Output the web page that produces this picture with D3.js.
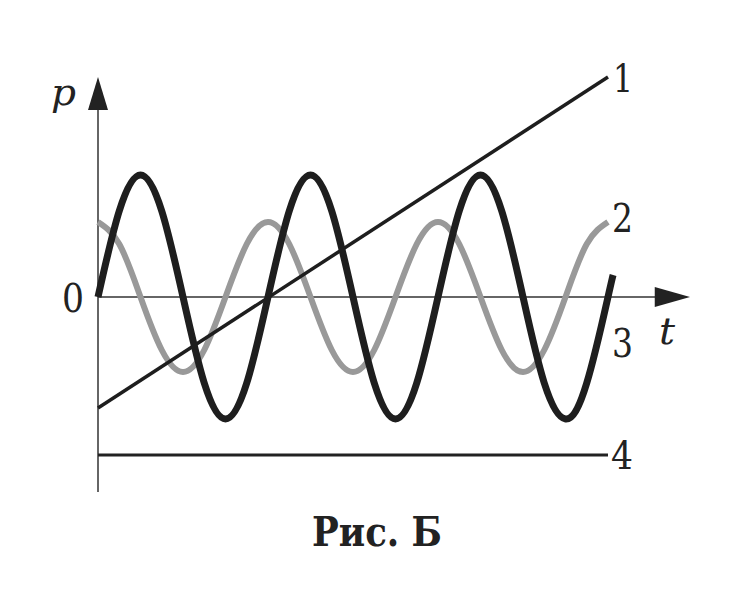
<!DOCTYPE html>
<html>
<head>
<meta charset="utf-8">
<script src="https://cdn.jsdelivr.net/npm/d3@7"></script>
<style>
  body { margin: 0; background: #fff; }
  text { font-family: "DejaVu Serif", "Liberation Serif", serif; fill: #222; }
</style>
</head>
<body>
<div id="chart"></div>
<script>
var width = 746;
var height = 594;

// time in quarter-periods
var tSteps = [0, 0.5, 1, 1.5, 2, 2.5, 3, 3.5, 4, 4.5, 5, 5.5, 6, 6.5, 7, 7.5, 8, 8.5, 9, 9.5, 10, 10.5, 11, 11.5, 12];
var curve2 = [0.75, 0.53, 0, -0.53, -0.75, -0.53, 0, 0.53, 0.75, 0.53, 0, -0.53, -0.75, -0.53, 0, 0.53, 0.75, 0.53, 0, -0.53, -0.75, -0.53, 0, 0.53, 0.75];
var curve3 = [0, 0.86, 1.22, 0.86, 0, -0.86, -1.22, -0.86, 0, 0.86, 1.22, 0.86, 0, -0.86, -1.22, -0.86, 0, 0.86, 1.22, 0.86, 0, -0.86, -1.22, -0.86, 0];
var curve3Tail = {t: 12.12, p: 0.22};
var line1 = [{t: 0, p: -1.11}, {t: 12, p: 2.2}];
var line4 = [{t: 0, p: -1.58}, {t: 12, p: -1.58}];
var labels = ["1", "2", "3", "4"];

var x = d3.scaleLinear().domain([0, 12]).range([98, 608]);
var y = d3.scaleLinear().domain([0, 1]).range([297, 197]);

var svg = d3.select("#chart").append("svg")
    .attr("width", width)
    .attr("height", height)
    .style("background", "#fff");

// axes
var axisColor = "#333";
svg.append("line")
    .attr("x1", x(0)).attr("y1", y(-1.95))
    .attr("x2", x(0)).attr("y2", y(1.9))
    .attr("stroke", axisColor).attr("stroke-width", 1.5);
svg.append("path")
    .attr("d", "M" + x(0) + "," + y(2.2) + " L" + (x(0) - 10) + "," + y(1.87) + " L" + (x(0) + 10) + "," + y(1.87) + " Z")
    .attr("fill", "#222");
svg.append("line")
    .attr("x1", x(0)).attr("y1", y(0))
    .attr("x2", x(13.2)).attr("y2", y(0))
    .attr("stroke", axisColor).attr("stroke-width", 1.5);
svg.append("path")
    .attr("d", "M" + x(13.93) + "," + y(0) + " L" + x(13.1) + "," + (y(0) - 10) + " L" + x(13.1) + "," + (y(0) + 10) + " Z")
    .attr("fill", "#222");

var lineGen = d3.line()
    .x(function (d) { return x(d.t); })
    .y(function (d) { return y(d.p); });

var smooth = d3.line()
    .x(function (d) { return x(d.t); })
    .y(function (d) { return y(d.p); })
    .curve(d3.curveNatural);

var data2 = tSteps.map(function (t, i) { return {t: t, p: curve2[i]}; });
var data3 = tSteps.map(function (t, i) { return {t: t, p: curve3[i]}; });
data3.push(curve3Tail);

// line 4
svg.append("path").attr("d", lineGen(line4))
    .attr("fill", "none").attr("stroke", "#222").attr("stroke-width", 3);

// curve 2 (gray)
svg.append("path").attr("d", smooth(data2))
    .attr("fill", "none").attr("stroke", "#999").attr("stroke-width", 6);

// line 1
svg.append("path").attr("d", lineGen(line1))
    .attr("fill", "none").attr("stroke", "#1e1e1e").attr("stroke-width", 3.5);

// curve 3 (black)
svg.append("path").attr("d", smooth(data3))
    .attr("fill", "none").attr("stroke", "#1e1e1e").attr("stroke-width", 7);

// labels
function label(txt, lx, ly, w, italic) {
  var t = svg.append("text").attr("x", lx).attr("y", ly)
      .attr("font-size", 40)
      .attr("textLength", w)
      .attr("lengthAdjust", "spacingAndGlyphs")
      .text(txt);
  if (italic) t.attr("font-style", "italic").attr("font-size", 37);
  return t;
}
label(labels[0], 613, 92, 20);
label(labels[1], 612, 232, 21);
label(labels[2], 612, 357, 21);
label(labels[3], 611, 469, 22);
label("0", 62, 312, 22);
label("p", 51, 105, 25, true);
label("t", 659, 344, 16, true);

svg.append("text").attr("x", 312).attr("y", 546)
    .attr("font-size", 41).attr("font-weight", "bold")
    .attr("textLength", 130)
    .attr("lengthAdjust", "spacingAndGlyphs")
    .text("Рис. Б");
</script>
</body>
</html>
